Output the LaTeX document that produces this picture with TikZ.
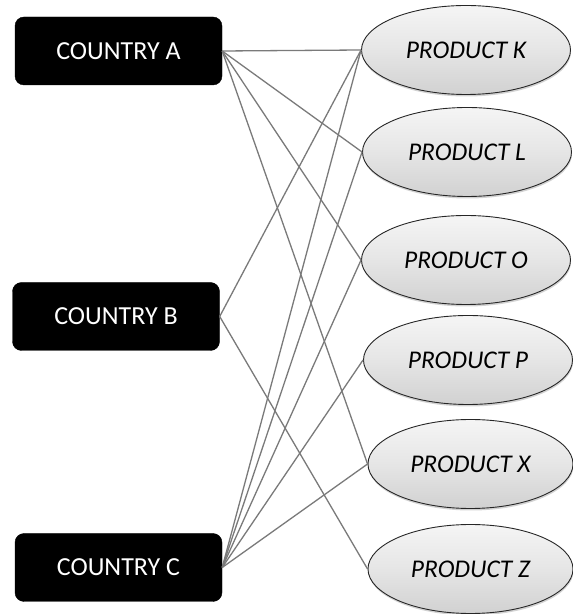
\documentclass[tikz,border=0pt]{standalone}
\usepackage{fontspec}
\setmainfont{Carlito}
\usetikzlibrary{shapes.geometric,shadows}
\begin{document}
\begin{tikzpicture}[x=1pt,y=1pt,
  country/.style={rectangle, rounded corners=9pt, fill=black, draw=black,
    text=white, minimum width=207pt, minimum height=68pt, inner sep=0pt,
    font=\fontsize{26}{30}\selectfont},
  product/.style={ellipse, draw=black!85, line width=0.9pt,
    top color=gray!8, bottom color=gray!36, middle color=gray!20,
    minimum width=209pt, minimum height=89pt, inner sep=0pt,
    drop shadow={opacity=0.35, shadow xshift=0.5pt, shadow yshift=-2pt},
    font=\fontsize{25.5}{30}\selectfont\itshape},
  link/.style={draw=black!52, line width=1.3pt}]
\useasboundingbox (0,0) rectangle (573,614);
\fill[white] (0,0) rectangle (573,614);

% exporting countries
\node[country] (A) at (118.5,563) {COUNTRY A};
\node[country] (B) at (116,297.5) {COUNTRY B};
\node[country] (C) at (118.5,46.5) {COUNTRY C};

% products
\node[product] (K) at (466,564) {PRODUCT K};
\node[product] (L) at (467,462) {PRODUCT L};
\node[product] (O) at (466,354) {PRODUCT O};
\node[product] (P) at (468,254) {PRODUCT P};
\node[product, minimum width=205pt] (X) at (470.5,150) {PRODUCT X};
\node[product, minimum width=205pt] (Z) at (470.5,45) {PRODUCT Z};

% trade links
\foreach \p in {K,L,O,X} \path[link] (A.east) -- (\p.west);
\foreach \p in {K,Z} \path[link] (B.east) -- (\p.west);
\foreach \p in {K,L,O,P,X} \path[link] (C.east) -- (\p.west);
\end{tikzpicture}
\end{document}
